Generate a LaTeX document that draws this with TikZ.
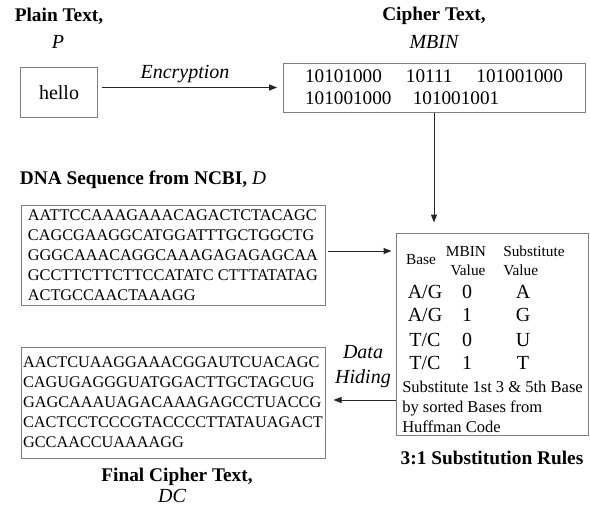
\documentclass[tikz,border=0pt]{standalone}
\usepackage{fontspec}
\setmainfont{Liberation Serif}
\usetikzlibrary{arrows.meta, positioning}

\begin{document}
\begin{tikzpicture}[x=0.75pt, y=-0.75pt, >={Triangle[length=6pt, width=4.5pt]}, % 单位: 原图像素
    box/.style={draw=gray, line width=0.75pt, inner sep=0pt},
    conn/.style={->, black!85, line width=0.75pt},
    title/.style={font=\fontsize{14.5}{17}\selectfont\bfseries, inner sep=0pt},
    sym/.style={font=\fontsize{15}{18.75}\selectfont\itshape, inner sep=0pt},
    seq/.style={box, align=left, font=\fontsize{12.2}{15}\selectfont},
    cell/.style={font=\fontsize{15}{18}\selectfont, inner sep=0pt},
    head/.style={font=\fontsize{11.5}{14}\selectfont, inner sep=0pt},
    note/.style={font=\fontsize{12.4}{15.2}\selectfont, inner sep=0pt, align=left, anchor=west}]

    % 0. 画布 (与原图同比例)
    \useasboundingbox (0,0) rectangle (590,512);

    % 1. 明文与密文
    \node[title] (plaintitle) at (59,16) {Plain Text,};
    \node[sym] (plainsym) at (58,42) {P};
    \node[box, minimum width=57.5pt, minimum height=37.2pt, font=\fontsize{15}{18}\selectfont] (plain) at (59,92.5) {hello};

    \node[title] (ciphertitle) at (434,16) {Cipher Text,};
    \node[sym] (ciphersym) at (434,42) {MBIN};
    \node[box, minimum width=226.5pt, minimum height=36.75pt, align=left, font=\fontsize{14.4}{16.5}\selectfont] (cipher) at (434,87.5)
        {10101000\hspace*{18pt}10111\hspace*{18pt}101001000\\101001000\hspace*{16pt}101001001};

    % 2. DNA 序列
    \node[title] (dnatitle) at (143,180) {DNA Sequence from NCBI, \textit{\mdseries D}};
    \node[seq, minimum width=228pt, minimum height=75pt] (dna) at (173,255)
        {AATTCCAAAGAAACAGACTCTACAGC\\CAGCGAAGGCATGGATTTGCTGGCTG\\GGGCAAACAGGCAAAGAGAGAGCAA\\GCCTTCTTCTTCCATATC CTTTATATAG\\ACTGCCAACTAAAGG};

    % 3. 替换规则表
    \node[box, minimum width=144pt, minimum height=151.5pt] (rules) at (492,334) {};
    \node[head] (hbase) at (421,260) {Base};
    \node[head] (hmbin) at (466,251) {MBIN};
    \node[head] (hmval) at (468,270) {Value};
    \node[head, anchor=west] (hsub) at (503,251) {Substitute};
    \node[head, anchor=west] (hsval) at (503,270) {Value};
    \foreach \b/\v/\s/\y [count=\i] in {{A/G}/0/A/292, {A/G}/1/G/315, {T/C}/0/U/340, {T/C}/1/T/363} {
        \node[cell] (base\i) at (425,\y) {\b};
        \node[cell] (val\i) at (467,\y) {\v};
        \node[cell] (sub\i) at (523,\y) {\s};
    }
    \node[note] (note) at (402,407) {Substitute 1st 3 \& 5th Base\\by sorted Bases from\\Huffman Code};
    \node[title] (rulestitle) at (492,458) {3:1 Substitution Rules};

    % 4. 最终密文
    \node[seq, minimum width=228pt, minimum height=83.25pt] (final) at (173,402.5)
        {AACTCUAAGGAAACGGAUTCUACAGC\\CAGUGAGGGUATGGACTTGCTAGCUG\\GAGCAAAUAGACAAAGAGCCTUACCG\\CACTCCTCCCGTACCCCTTATAUAGACT\\GCCAACCUAAAAGG};
    \node[title] (finaltitle) at (177,477) {Final Cipher Text,};
    \node[sym] (finalsym) at (172,496) {DC};

    % 5. 箭头
    \draw[conn, shorten <=3pt, shorten >=4pt] (plain.east |- cipher.west) -- (cipher.west);
    \node[sym] (enc) at (185,74) {Encryption};

    \draw[conn, shorten >=7.5pt] (cipher.south) -- (cipher.south |- rules.north);

    \draw[conn, shorten <=2pt, shorten >=3pt] ([yshift=3pt]dna.east) -- ([yshift=3pt]dna.east -| rules.west);

    \coordinate (hide) at (0,400);
    \draw[conn, shorten >=6pt] (rules.west |- hide) -- (final.east |- hide);
    \node[sym, align=center] (hidelbl) at (363,367) {Data\\Hiding};

\end{tikzpicture}
\end{document}
